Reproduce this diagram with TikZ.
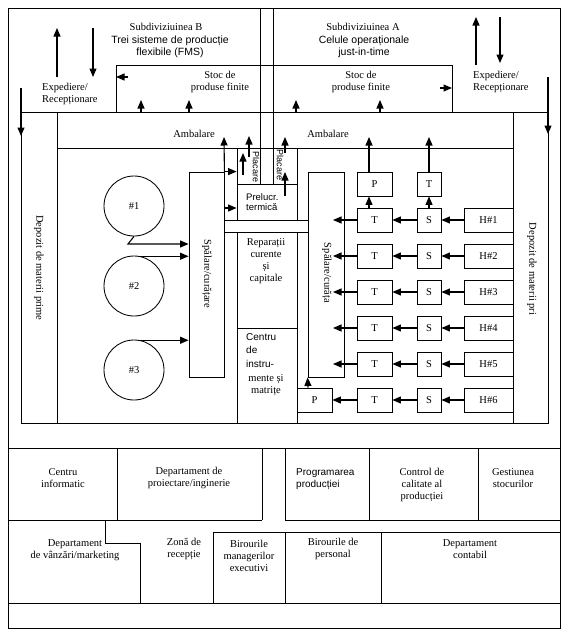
\documentclass[tikz,border=0pt]{standalone}
\usepackage{fontspec}
\setmainfont{Liberation Serif}
\newfontfamily\sansf{Liberation Sans}
\usetikzlibrary{arrows.meta}
\begin{document}
\begin{tikzpicture}[x=1pt,y=-1pt,
  ln/.style={line width=0.85pt},
  arr/.style={line width=1.1pt,-{Triangle[length=8.5pt,width=7pt]}},
  box/.style={draw,line width=0.85pt,inner sep=0pt,font=\fontsize{10.5}{12}\selectfont},
  txt/.style={inner sep=0pt,align=center,font=\fontsize{10.5}{12}\selectfont},
  stxt/.style={inner sep=0pt,align=center,font=\sansf\fontsize{10.5}{12}\selectfont},
  vtxt/.style={inner sep=0pt,rotate=-90,font=\fontsize{10.5}{12}\selectfont},
  ptxt/.style={inner sep=0pt,rotate=-90,font=\sansf\fontsize{9}{10}\selectfont},
]
\useasboundingbox (0,0) rectangle (566,637);
% ---------- structure ----------
\draw[ln] (8,8) rectangle (560,628);
\draw[ln] (116,112) |- (452,65) -- (452,112);
\draw[ln] (21,112) rectangle (548,423);
\draw[ln] (57,112) -- (57,423);
\draw[ln] (513,112) -- (513,423);
\draw[ln] (57,148) -- (513,148);
\draw[ln] (260,8) -- (260,184);
\draw[ln] (273,8) -- (273,184);
\draw[ln] (237,148) -- (237,220);
\draw[ln] (297,148) -- (297,220);
\draw[ln] (224,220) -- (308,220);
\draw[ln] (224,232) -- (308,232);
\draw[ln] (237,232) -- (237,423);
\draw[ln] (297,232) -- (297,423);
\draw[ln] (237,328) -- (297,328);
% bottom offices
\draw[ln] (8,448) -- (560,448);
\draw[ln] (8,520) -- (262,520);
\draw[ln] (285,520) -- (560,520);
\foreach \xx in {117,262,285,369,478} \draw[ln] (\xx,448) -- (\xx,520);
\draw[ln] (213,532) -- (560,532);
\draw[ln] (105,520) |- (140,543) -- (140,603);
\foreach \xx in {213,285,381} \draw[ln] (\xx,532) -- (\xx,603);
\draw[ln] (8,603) -- (560,603);

% ---------- top texts ----------
\node[txt] (subB) at (166,27) {Subdiviziuinea B};
\node[stxt] (fmsB) at (170,46.5) {Trei sisteme de producție\\flexibile (FMS)};
\node[txt] (subA) at (363,27) {Subdiviziuinea A};
\node[stxt] (jitA) at (364,46.5) {Celule operaționale\\just-in-time};
\node[txt,align=left,anchor=west,font=\fontsize{10.5}{11.5}\selectfont] (expB) at (42,94) {Expediere/\\Recepționare};
\node[txt,align=left,anchor=west,font=\fontsize{10.5}{11.5}\selectfont] (expA) at (473,82) {Expediere/\\Recepționare};
\node[txt] (stB) at (220,82) {Stoc de\\produse finite};
\node[txt] (stA) at (361,82) {Stoc de\\produse finite};
\node[txt] (amB) at (194,134) {Ambalare};
\node[txt] (amA) at (328,134) {Ambalare};

% expediere arrows
\coordinate (eB1) at (57,77); \coordinate (eB2) at (57,28);
\coordinate (eB3) at (93,28); \coordinate (eB4) at (93,77);
\coordinate (eA1) at (476,65); \coordinate (eA2) at (476,17);
\coordinate (eA3) at (500,17); \coordinate (eA4) at (500,63);
\coordinate (dL1) at (21,88); \coordinate (dL2) at (21,136);
\coordinate (dR1) at (548,77); \coordinate (dR2) at (548,134);
\draw[arr] (eB1) -- (eB2);
\draw[arr] (eB3) -- (eB4);
\draw[arr] (eA1) -- (eA2);
\draw[arr] (eA3) -- (eA4);
\draw[arr] (dL1) -- (dL2);
\draw[arr] (dR1) -- (dR2);
% stock arrows
\coordinate (sl1) at (128,77); \coordinate (sl2) at (116,77);
\coordinate (sr1) at (440,88); \coordinate (sr2) at (452,88);
\draw[arr] (sl1) -- (sl2);
\draw[arr] (sr1) -- (sr2);
\foreach \xx in {141,189,296,380} {
  \coordinate (u1\xx) at (\xx,112); \coordinate (u2\xx) at (\xx,100);
  \draw[arr] (u1\xx) -- (u2\xx);
}

% ---------- depozite ----------
\node[vtxt] (depL) at (39,268) {Depozit de materii prime};
\node[vtxt] (depR) at (532,269) {Depozit de materii pri};

% ---------- FMS side ----------
\node[box,minimum width=35,minimum height=205] (sp1) at (206.5,274.5) {};
\node[vtxt] (sp1t) at (207,274) {Spălare/curățare};
\node[draw,ln,circle,minimum size=60,inner sep=0pt,font=\fontsize{10.5}{12}\selectfont] (c1) at (134,206) {\#1};
\node[draw,ln,circle,minimum size=60,inner sep=0pt,font=\fontsize{10.5}{12}\selectfont] (c2) at (134,286) {\#2};
\node[draw,ln,circle,minimum size=60,inner sep=0pt,font=\fontsize{10.5}{12}\selectfont] (c3) at (134,370) {\#3};
\coordinate (k1) at (128,244);
\draw[arr] (c1.south) -- (k1) -- (k1 -| sp1.west);
\draw[arr] (c2.78) -- (c2.78 -| sp1.west);
\draw[arr] (c3.78) -- (c3.78 -| sp1.west);

\node[box,minimum width=60,minimum height=36] (pr) at (267,202) {};
\node[inner sep=0pt,align=left,anchor=west,font=\sansf\fontsize{9.5}{10.5}\selectfont] (prt) at (246,202) {Prelucr.\\termică};
\node[ptxt] (plL) at (256,167) {Placare};
\node[ptxt] (plR) at (280,165) {Placare};
\coordinate (s1b) at (224,208);
\draw[arr] (sp1.north east) -- (sp1.north east -| pr.west);
\draw[arr] (s1b) -- (s1b -| pr.west);
\coordinate (am1) at (224,137);
\draw[arr] (sp1.north east) -- (am1);
\coordinate (pa1) at (243,175); \coordinate (pa2) at (243,153);
\coordinate (pb1) at (249,157); \coordinate (pb2) at (249,136);
\coordinate (pc1) at (285,196); \coordinate (pc2) at (285,172);
\coordinate (pd1) at (285,153); \coordinate (pd2) at (285,137);
\draw[arr] (pa1) -- (pa2);
\draw[arr] (pb1) -- (pb2);
\draw[arr] (pc1) -- (pc2);
\draw[arr] (pd1) -- (pd2);

\node[txt] (rep) at (266,261.5) {Reparații\\curente\\și\\capitale};
\node[inner sep=0pt,align=left,anchor=north west,font=\sansf\fontsize{10}{13.5}\selectfont] (cen) at (246,333) {Centru\\de\\instru-};
\node[txt] (cen2) at (266,385) {mente și\\matrițe};

% ---------- JIT side ----------
\node[box,minimum width=36,minimum height=205] (sp2) at (326,274.5) {};
\node[vtxt] (sp2t) at (327,273) {Spălare/curăța};
\node[box,minimum width=35,minimum height=24] (Pt) at (374.5,184) {P};
\node[box,minimum width=24,minimum height=24] (Tt) at (429,184) {T};
\node[box,minimum width=35,minimum height=24] (P6) at (314.5,400) {P};
\foreach \i/\yy in {1/220,2/256,3/292,4/328,5/364,6/400} {
  \node[box,minimum width=35,minimum height=24] (T\i) at (374.5,\yy) {T};
  \node[box,minimum width=24,minimum height=24] (S\i) at (429,\yy) {S};
  \node[box,minimum width=49,minimum height=24] (H\i) at (488.5,\yy) {H\#\i};
  \draw[arr] (H\i) -- (S\i);
  \draw[arr] (S\i) -- (T\i);
}
\foreach \i/\yy in {1/220,2/256,3/292,4/328,5/364} {
  \coordinate (w\i) at (333,\yy);
  \draw[arr] (T\i) -- (w\i);
}
\draw[arr] (T6) -- (P6);
\draw[arr] ([xshift=-6.5pt]P6.north) -- (sp2.south west);
\draw[arr] ([xshift=-5.5pt]T1.north) -- ([xshift=-5.5pt]Pt.south);
\draw[arr] (S1) -- (Tt);
\coordinate (aP) at (369,137);
\coordinate (aT) at (429,137);
\draw[arr] ([xshift=-5.5pt]Pt.north) -- (aP);
\draw[arr] (Tt) -- (aT);

% ---------- offices ----------
\node[txt] (ci) at (63,478) {Centru\\informatic};
\node[txt] (dp) at (189,478) {Departament de\\proiectare/inginerie};
\node[stxt,align=left,anchor=west,font=\sansf\fontsize{10}{12}\selectfont] (pp) at (296,479) {Programarea\\producției};
\node[txt] (cc) at (422,484.5) {Control de\\calitate al\\producției};
\node[txt] (gs) at (513,478) {Gestiunea\\stocurilor};
\node[txt] (dv) at (75,550.5) {Departament\\de vânzări/marketing};
\node[txt] (zr) at (184,549) {Zonă de\\recepție};
\node[txt] (bm) at (249,555.5) {Birourile\\managerilor\\executivi};
\node[txt] (bp) at (333,549) {Birourile de\\personal};
\node[txt] (dc) at (470,549) {Departament\\contabil};
\end{tikzpicture}
\end{document}
